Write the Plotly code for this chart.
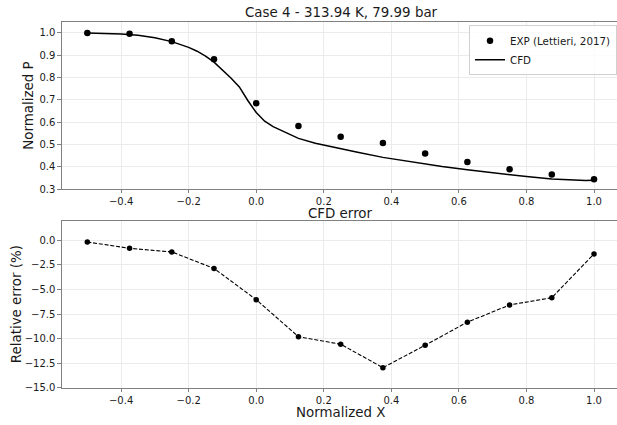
import plotly.graph_objects as go

# ---- data ----
exp_x = [-0.5, -0.375, -0.25, -0.125, 0.0, 0.125, 0.25, 0.375, 0.5, 0.625, 0.75, 0.875, 1.0]
exp_p = [1.0, 0.996, 0.963, 0.882, 0.685, 0.583, 0.535, 0.506, 0.459, 0.421, 0.389, 0.365, 0.344]

cfd_x = [-0.5, -0.45, -0.4, -0.35, -0.3, -0.25, -0.2, -0.175, -0.15, -0.125, -0.1, -0.075,
         -0.05, -0.025, 0.0, 0.0125, 0.025, 0.05, 0.075, 0.1, 0.125, 0.175, 0.25, 0.3,
         0.375, 0.45, 0.5, 0.55, 0.625, 0.7, 0.75, 0.8, 0.875, 0.925, 0.95, 0.975, 1.0]
cfd_p = [1.0, 0.998, 0.995, 0.99, 0.978, 0.961, 0.935, 0.918, 0.896, 0.869, 0.834, 0.798,
         0.758, 0.697, 0.643, 0.621, 0.604, 0.580, 0.562, 0.544, 0.527, 0.505, 0.479, 0.465,
         0.442, 0.424, 0.411, 0.401, 0.386, 0.372, 0.364, 0.356, 0.345, 0.340, 0.339, 0.338, 0.339]

err_x = exp_x
err_pct = [-0.17, -0.81, -1.18, -2.86, -6.04, -9.81, -10.58, -12.96, -10.68, -8.33, -6.58, -5.84, -1.38]

x_ticks = [-0.4, -0.2, 0.0, 0.2, 0.4, 0.6, 0.8, 1.0]
p_ticks = [0.3, 0.4, 0.5, 0.6, 0.7, 0.8, 0.9, 1.0]
e_ticks = [0.0, -2.5, -5.0, -7.5, -10.0, -12.5, -15.0]

title_text = "Case 4 - 313.94 K, 79.99 bar"
sub_title = "CFD error"

W, H = 617, 425
FONT = "DejaVu Sans"
TXT = "#1a1a1a"
SPINE = "#808080"
GRID = "#ebebeb"

fig = go.Figure()
fig.add_trace(go.Scatter(x=exp_x, y=exp_p, mode="markers", name="EXP (Lettieri, 2017)",
                         marker=dict(color="black", size=6.5), xaxis="x", yaxis="y"))
fig.add_trace(go.Scatter(x=cfd_x, y=cfd_p, mode="lines", name="CFD",
                         line=dict(color="black", width=1.5), xaxis="x", yaxis="y"))
fig.add_trace(go.Scatter(x=err_x, y=err_pct, mode="lines+markers", showlegend=False,
                         line=dict(color="black", width=1.1, dash="4px,1.8px"),
                         marker=dict(color="black", size=5.5), xaxis="x2", yaxis="y2"))

L = 62
pw = W - L

def px_to_paper_y(py):
    return (H - py) / H

def px_to_paper_x(px):
    return (px - L) / pw

xcommon = dict(range=[-0.575, 1.068], tickvals=x_ticks, ticktext=[f"{v:.1f}".replace("-", "\u2212") for v in x_ticks],
               showgrid=True, gridcolor=GRID, gridwidth=1, zeroline=False,
               showline=True, linecolor=SPINE, linewidth=1.3, mirror=True,
               ticks="outside", ticklen=3, tickcolor=SPINE, tickwidth=1,
               tickfont=dict(family=FONT, size=10, color=TXT))
ycommon = dict(showgrid=True, gridcolor=GRID, gridwidth=1, zeroline=False,
               showline=True, linecolor=SPINE, linewidth=1.3,
               ticks="outside", ticklen=3.5, tickcolor=SPINE, tickwidth=1,
               tickfont=dict(family=FONT, size=10, color=TXT))

top_dom = [px_to_paper_y(191.3), px_to_paper_y(22.7)]
bot_dom = [px_to_paper_y(392.3), px_to_paper_y(223.3)]

fig.update_layout(
    width=W, height=H,
    margin=dict(l=L, r=0, t=0, b=0),
    paper_bgcolor="white", plot_bgcolor="white",
    font=dict(family=FONT, color=TXT),
    xaxis=dict(domain=[0, 1], anchor="y", **xcommon),
    yaxis=dict(domain=top_dom, anchor="x", range=[0.3, 1.047], tickvals=p_ticks,
               ticktext=[f"{v:.1f}" for v in p_ticks], **ycommon),
    xaxis2=dict(domain=[0, 1], anchor="y2", **xcommon),
    yaxis2=dict(domain=bot_dom, anchor="x2", range=[-15, 2.0], tickvals=e_ticks,
                ticktext=[f"{v:.1f}".replace("-", "\u2212") for v in e_ticks], **ycommon),
    legend=dict(x=1.0, y=px_to_paper_y(25.5), xanchor="right", yanchor="top",
                bgcolor="rgba(255,255,255,0.85)", bordercolor="#d0d0d0", borderwidth=1,
                font=dict(family=FONT, size=10.3, color=TXT), tracegroupgap=0,
                itemwidth=30),
    showlegend=True,
)

annos = [
    dict(text=title_text, x=px_to_paper_x(341.5), y=px_to_paper_y(13), font=dict(size=13.4)),
    dict(text=sub_title, x=px_to_paper_x(340.5), y=px_to_paper_y(216.5), font=dict(size=13.4)),
    dict(text="Normalized X", x=px_to_paper_x(340.5), y=px_to_paper_y(417), font=dict(size=13.4)),
    dict(text="Normalized P", x=px_to_paper_x(29), y=px_to_paper_y(107), font=dict(size=13.4), textangle=-90),
    dict(text="Relative error (%)", x=px_to_paper_x(16), y=px_to_paper_y(307.8), font=dict(size=13.4), textangle=-90),
]
for a in annos:
    a["font"].update(family=FONT, color=TXT)
    fig.add_annotation(xref="paper", yref="paper", showarrow=False, xanchor="center", yanchor="middle",
                       borderpad=0, **a)

fig.write_html("out.html")
